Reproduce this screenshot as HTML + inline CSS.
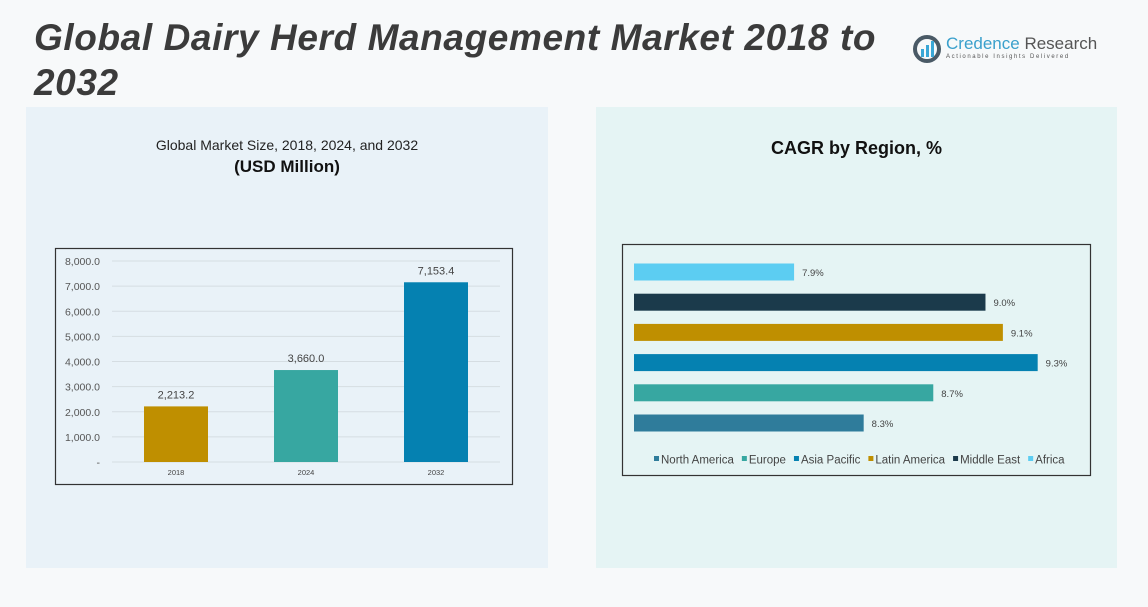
<!DOCTYPE html>
<html><head><meta charset="utf-8"><style>
body{margin:0;width:1148px;height:607px;background:#f7f9fa;font-family:"Liberation Sans",sans-serif;position:relative;overflow:hidden}
.abs{position:absolute}
</style></head><body>
<div class="abs" style="left:34px;top:15px;width:880px;font-size:37px;letter-spacing:0.6px;font-weight:bold;font-style:italic;color:#3b3b3b;line-height:45px">Global Dairy Herd Management Market 2018 to 2032</div>
<div class="abs" style="left:913px;top:33px;width:190px;height:34px">
<svg width="28" height="28" style="position:absolute;left:0;top:2px"><circle cx="14" cy="14" r="12" fill="none" stroke="#4a5a66" stroke-width="4"/><rect x="8" y="14" width="3" height="8" fill="#3aa7d6"/><rect x="13" y="10" width="3" height="12" fill="#3aa7d6"/><rect x="18" y="6" width="3" height="16" fill="#3aa7d6"/></svg>
<div class="abs" style="left:33px;top:1px;font-size:17px;color:#3aa0cc;white-space:nowrap">Credence <span style="color:#555">Research</span></div>
<div class="abs" style="left:33px;top:21px;font-size:6px;letter-spacing:1.6px;color:#555;white-space:nowrap">Actionable Insights Delivered</div>
</div>
<div class="abs" style="left:26px;top:107px;width:522px;height:461px;background:#e9f2f8"></div>
<div class="abs" style="left:596px;top:107px;width:521px;height:461px;background:#e5f4f4"></div>
<div class="abs" style="left:26px;top:137px;width:522px;text-align:center;font-size:14px;color:#222">Global Market Size, 2018, 2024, and 2032</div>
<div class="abs" style="left:26px;top:157px;width:522px;text-align:center;font-size:17px;font-weight:bold;color:#111">(USD Million)</div>
<div class="abs" style="left:596px;top:138px;width:521px;text-align:center;font-size:18px;font-weight:bold;color:#111">CAGR by Region, %</div>
<svg class="abs" style="left:0;top:0" width="1148" height="607" id="svg"></svg>
<script>
const years=["2018","2024","2032"];
const sizes=[2213.2,3660.0,7153.4];
const sizeLabels=["2,213.2","3,660.0","7,153.4"];
const yTicks=[0,1000,2000,3000,4000,5000,6000,7000,8000];
const yTickLabels=["-","1,000.0","2,000.0","3,000.0","4,000.0","5,000.0","6,000.0","7,000.0","8,000.0"];
const regions=["Africa","Middle East","Latin America","Asia Pacific","Europe","North America"];
const cagr=[7.9,9.0,9.1,9.3,8.7,8.3];
const cagrLabels=["7.9%","9.0%","9.1%","9.3%","8.7%","8.3%"];
const legendOrder=["North America","Europe","Asia Pacific","Latin America","Middle East","Africa"];
const colors={"Africa":"#5ccdf2","Middle East":"#1b3a4b","Latin America":"#bf8f00","Asia Pacific":"#0581b1","Europe":"#37a7a1","North America":"#2f7c9b"};
const barColors=["#bf8f00","#37a7a1","#0581b1"];
const S=document.getElementById('svg');const NS="http://www.w3.org/2000/svg";
function mk(t,a,txt){const e=document.createElementNS(NS,t);for(const k in a)e.setAttribute(k,a[k]);if(txt!==undefined)e.textContent=txt;S.appendChild(e);return e;}
let e=mk('rect',{x:55.5,y:248.5,width:457,height:236,fill:'none',stroke:'#333','stroke-width':1.2});


const y=v=>462-v*(201/8000);
const xc=i=>176+i*130;
yTicks.forEach((t,i)=>{
 let g=mk('line',{x1:112,x2:500,y1:y(t),y2:y(t),stroke:'#d5dde2','stroke-width':1});
 
 
 let l=mk('text',{x:100,y:y(t)+4,'text-anchor':'end','font-size':10.5,fill:'#555','font-family':'Liberation Sans'},yTickLabels[i]);
 
 
});
sizes.forEach((v,i)=>{
 let b=mk('rect',{x:xc(i)-32,y:y(v),width:64,height:462-y(v),fill:barColors[i]});
 
 
 let t=mk('text',{x:xc(i),y:y(v)-8,'text-anchor':'middle','font-size':11,fill:'#444','font-family':'Liberation Sans'},sizeLabels[i]);
 
 
 let c=mk('text',{x:xc(i),y:475,'text-anchor':'middle','font-size':7.5,fill:'#444','font-family':'Liberation Sans'},years[i]);
 
 
});
e=mk('rect',{x:622.5,y:244.5,width:468,height:231,fill:'none',stroke:'#333','stroke-width':1.2});


const xs=v=>634+(v-6.98)*174;
const yr=i=>272+i*30.2;
regions.forEach((r,i)=>{
 let b=mk('rect',{x:634,y:yr(i)-8.5,width:xs(cagr[i])-634,height:17,fill:colors[r]});
 
 
 let t=mk('text',{x:xs(cagr[i])+8,y:yr(i)+4,'font-size':9.5,fill:'#444','font-family':'Liberation Sans'},cagrLabels[i]);
 
 
});
let lx=654;
legendOrder.forEach(r=>{
 let s=mk('rect',{x:lx,y:456,width:5,height:5,fill:colors[r]});
 
 
 let t=mk('text',{x:lx+7,y:463.5,'font-size':11.5,fill:'#444','font-family':'Liberation Sans'},r);
 
 
 lx+=7+t.getComputedTextLength()+8;
});
</script>
</body></html>
